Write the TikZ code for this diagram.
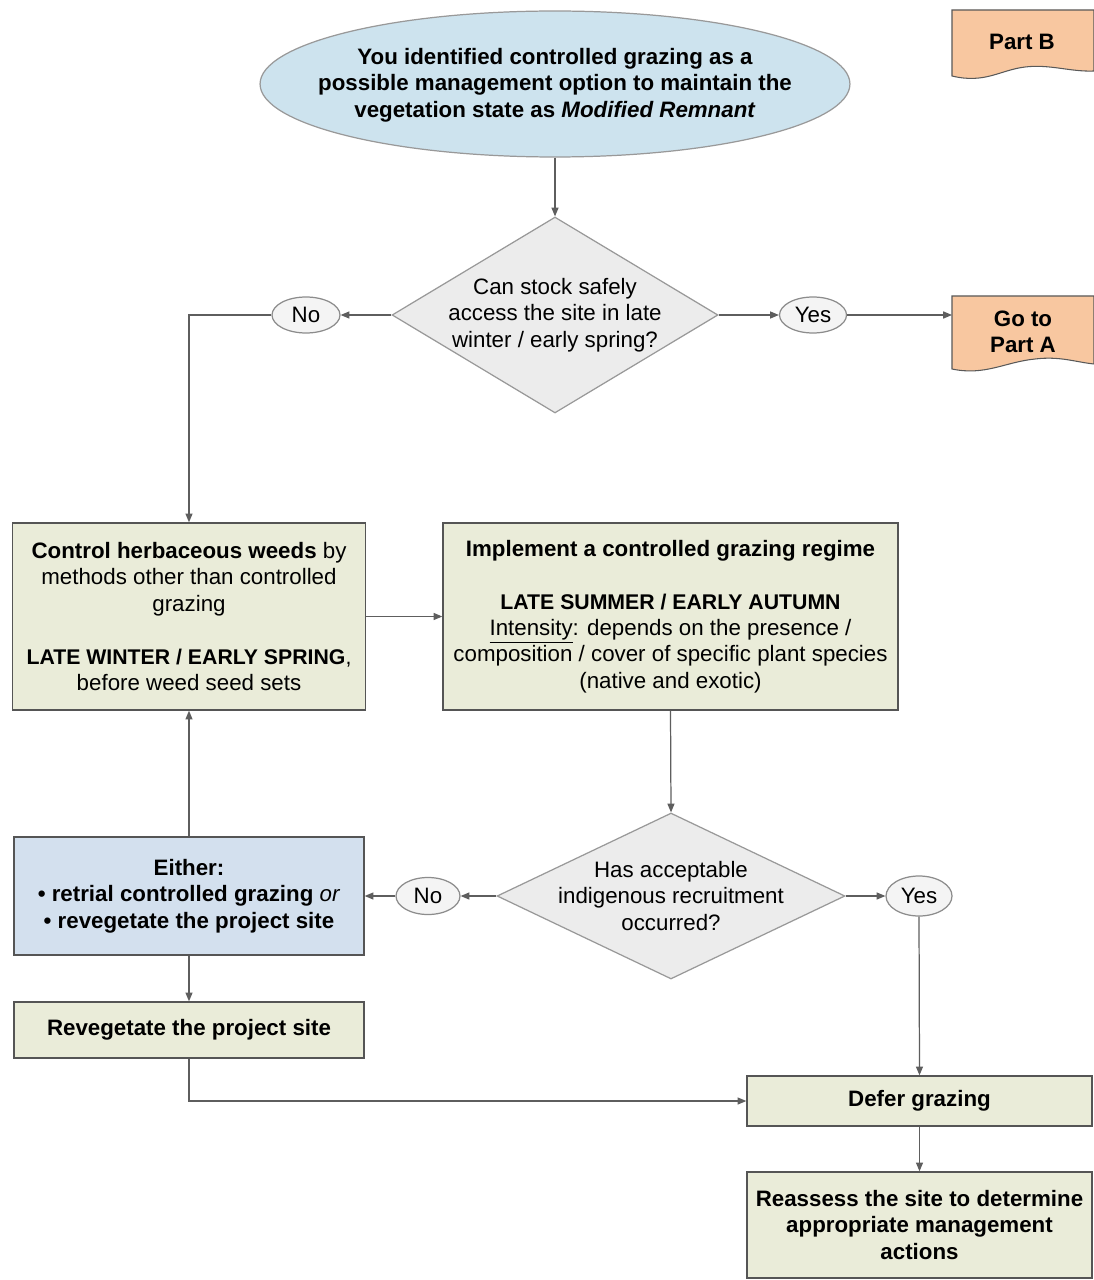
\documentclass[tikz,border=0pt]{standalone}
\usepackage{fontspec}
\setmainfont{Liberation Sans}
\usetikzlibrary{shapes.geometric,arrows.meta}
\definecolor{boxfill}{HTML}{EAECD9}
\definecolor{bluefill}{HTML}{D3E0EE}
\definecolor{ellfill}{HTML}{CDE3EE}
\definecolor{peach}{HTML}{F8C7A0}
\definecolor{dfill}{HTML}{ECECEC}
\definecolor{linec}{HTML}{5E5E5E}
\definecolor{bord}{HTML}{555555}
\newcommand{\myfs}{\fontsize{12.7}{15}\selectfont}
\newcommand{\capfs}{\fontsize{12.1}{15}\selectfont}
\begin{document}
\begin{tikzpicture}[x=0.02cm,y=-0.02cm,
  font=\myfs,
  box/.style={draw=bord,line width=0.8pt,fill=boxfill,rectangle,inner sep=0pt,align=center},
  dia/.style={draw=gray!80,line width=0.7pt,fill=dfill,diamond,inner sep=0pt},
  yn/.style={draw=gray!90,line width=0.7pt,fill=dfill!60,ellipse,inner sep=0pt},
  txt/.style={align=center,inner sep=0pt},
  conn/.style={draw=linec,line width=0.7pt,-{Triangle[length=5pt,width=4pt]}},
  plain/.style={draw=linec,line width=0.7pt}]
\useasboundingbox (0,0) rectangle (1094,1280);
\fill[white] (0,0) rectangle (1094,1280);

% Part B document shape
\path[draw=gray!70!black,line width=0.6pt,fill=peach] (952,10) -- (1094,10) -- (1094,71)
  .. controls (1070,72) and (1050,64) .. (1025,67)
  .. controls (1000,70) and (985,84) .. (952,76) -- cycle;
\node[txt,font=\myfs\bfseries] (partb) at (1022,42) {Part B};

% Go to Part A document shape
\path[draw=gray!70!black,line width=0.6pt,fill=peach] (952,296) -- (1094,296) -- (1094,364)
  .. controls (1075,362) and (1060,356) .. (1035,359)
  .. controls (1005,362) and (985,376) .. (952,369) -- cycle;
\node[txt,minimum width=2.84cm,minimum height=1.2cm,font=\myfs\bfseries] (goa) at (1023,332) {Go to\\Part A};
\coordinate (goaw) at (952,315);

% top ellipse
\node[ellipse,draw=gray!80,line width=0.7pt,fill=ellfill,minimum width=11.8cm,minimum height=2.92cm,inner sep=0pt] (start) at (555,84) {};
\node[txt,font=\myfs\bfseries] (startt) at (555,85) {You identified controlled grazing as a\\possible management option to maintain the\\vegetation state as \textit{Modified Remnant}};

% diamond 1
\node[dia,minimum width=6.52cm,minimum height=3.92cm] (d1) at (555,315) {};
\node[txt] (d1t) at (555,315) {Can stock safely\\access the site in late\\winter / early spring?};

\node[yn,minimum width=1.36cm,minimum height=0.72cm] (no1) at (306,315) {No};
\node[yn,minimum width=1.34cm,minimum height=0.72cm] (yes1) at (813,315) {Yes};

% boxes
\node[box,minimum width=7.06cm,minimum height=3.74cm] (b1) at (189,616.5)
  {\textbf{Control herbaceous weeds} by\\methods other than controlled\\grazing\\[15pt]{\capfs\textbf{LATE WINTER / EARLY SPRING},}\\before weed seed sets};
\node[box,minimum width=9.1cm,minimum height=3.74cm] (b2) at (670.5,616.5)
  {\textbf{Implement a controlled grazing regime}\\[15pt]{\capfs\textbf{LATE SUMMER / EARLY AUTUMN}}\\\underline{Intensity}: depends on the presence /\\composition / cover of specific plant species\\(native and exotic)};

% diamond 2
\node[dia,minimum width=6.96cm,minimum height=3.32cm] (d2) at (671,896) {};
\node[txt] (d2t) at (671,896) {Has acceptable\\indigenous recruitment\\occurred?};

\node[yn,minimum width=1.28cm,minimum height=0.74cm] (no2) at (428,896) {No};
\node[yn,minimum width=1.32cm,minimum height=0.8cm] (yes2) at (919,896) {Yes};

\node[box,fill=bluefill,minimum width=7.0cm,minimum height=2.36cm] (b3) at (189,896)
  {\textbf{Either:}\\\textbf{• retrial controlled grazing} \textit{or}\\\textbf{• revegetate the project site}};
\node[box,minimum width=7.0cm,minimum height=1.12cm] (b4) at (189,1030)
  {\textbf{Revegetate the project site}};
\node[box,minimum width=6.9cm,minimum height=1.0cm] (b5) at (919.5,1101)
  {\textbf{Defer grazing}};
\node[box,minimum width=6.9cm,minimum height=2.12cm] (b6) at (919.5,1225)
  {\textbf{Reassess the site to determine}\\\textbf{appropriate management}\\\textbf{actions}};

% connectors
\draw[conn] (start.south) -- (d1.north);
\draw[conn] (d1.west) -- (no1.east);
\draw[conn] (no1.west) -| (b1.north);
\draw[conn] (d1.east) -- (yes1.west);
\draw[conn] (yes1.east) -- (goaw);
\draw[conn] (b1.east) -- (b2.west);
\draw[conn] (b2.south) -- (d2.north);
\draw[conn] (d2.west) -- (no2.east);
\draw[conn] (no2.west) -- (b3.east);
\draw[conn] (d2.east) -- (yes2.west);
\draw[conn] (yes2.south) -- (b5.north);
\draw[conn] (b3.north) -- (b1.south);
\draw[conn] (b3.south) -- (b4.north);
\draw[conn] (b4.south) |- (b5.west);
\draw[conn] (b5.south) -- (b6.north);
\end{tikzpicture}
\end{document}
